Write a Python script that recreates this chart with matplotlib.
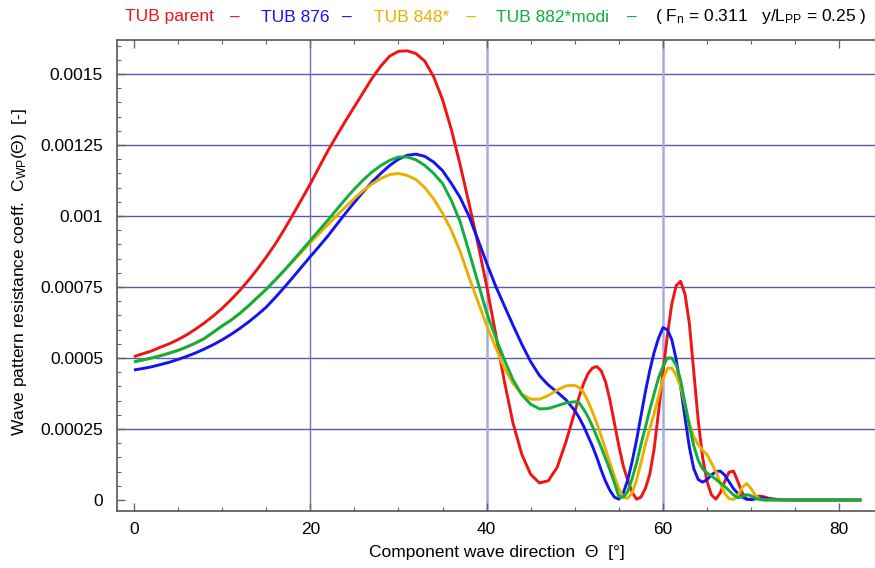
import numpy as np
import matplotlib
matplotlib.use("Agg")
import matplotlib.pyplot as plt
from matplotlib.ticker import FixedLocator, MultipleLocator

plt.rcParams['font.family'] = ['Liberation Sans', 'DejaVu Sans']
plt.rcParams['mathtext.fontset'] = 'custom'
plt.rcParams['mathtext.rm'] = 'Liberation Sans'
plt.rcParams['mathtext.it'] = 'Liberation Sans:italic'

# component wave direction [deg]
theta = [0, 1, 2, 3, 4, 5, 6, 7, 8, 9,
         10, 11, 12, 13, 14, 15, 16, 17, 18, 19,
         20, 21, 22, 23, 24, 25, 26, 27, 28, 29,
         30, 31, 32, 33, 34, 35, 36, 37, 38, 39,
         40, 41, 42, 43, 44, 45, 46, 47, 48, 49,
         50,
         50.5, 51, 51.5, 52, 52.5, 53, 53.5, 54, 54.5, 55,
         55.5, 56, 56.5, 57, 57.5, 58, 58.5, 59, 59.5, 60,
         60.5, 61, 61.5, 62, 62.5, 63, 63.5, 64, 64.5, 65,
         65.5, 66, 66.5, 67, 67.5, 68, 68.5, 69, 69.5, 70,
         70.5, 71, 71.5, 72,
         73, 74, 75, 78, 82.5]

# C_WP values in units of 1e-5
cwp_parent = [50.5, 51.5, 52.5, 53.8, 55, 56.5, 58.2, 60.2, 62.4, 64.8,
              67.5, 70.5, 73.8, 77.4, 81.3, 85.5, 90, 95, 100.3, 105.8,
              111.3, 117.2, 123, 128.3, 133.5, 138.5, 143.5, 148.5, 152.8, 156.3,
              158, 158.2, 157.2, 154.5, 149, 141, 130.5, 118, 104.5, 90.5,
              75.5, 59, 42, 27, 16, 9, 6, 6.8, 11.5, 20.5,
              31,
              36.5, 41, 44.5, 46.5, 47, 45.5, 41.5, 35, 27, 19,
              12, 7, 2.8, 0.3, 1, 4, 9, 18, 31, 45,
              58, 69, 75.5, 77, 72.5, 62, 45, 28, 15, 6.5,
              1.8, 0.3, 2.5, 6.5, 9.8, 10.2, 6.5, 2.5, 0.3, 0.3,
              1, 1.4, 1.1, 0.6,
              0.2, 0.05, 0, 0, 0]

cwp_876 = [45.8, 46.3, 46.9, 47.7, 48.5, 49.5, 50.6, 51.8, 53.2, 54.7,
           56.4, 58.3, 60.4, 62.7, 65.2, 67.9, 71.2, 74.7, 78.3, 82,
           85.7, 89.3, 93, 97, 101, 104.8, 108.5, 112, 115, 117.8,
           120, 121.4, 121.8, 121, 119, 116, 111.5, 106.5, 100, 91.8,
           83.5, 75.5, 68.5, 61.5, 54.8, 48.7, 43.8, 40.5, 38, 35.3,
           31.5,
           29, 26, 22.5, 19, 15, 10.5, 6.5, 3.3, 1, 0.3,
           2.5, 7, 13.5, 21, 29.5, 38, 45.5, 52, 57, 60.7,
           60, 56.5, 49.5, 40, 29, 18.5, 11, 7.2, 6.3, 7.2,
           8.8, 10, 10.2, 8.8, 6.4, 4, 2.3, 1, 0.3, 0.1,
           0.4, 0.7, 0.6, 0.4,
           0.1, 0, 0, 0, 0]

cwp_848 = [48.7, 49.3, 50, 50.8, 51.7, 52.7, 53.9, 55.3, 56.9, 59.1,
           61.3, 63.3, 65.7, 68.4, 71.3, 74.2, 77.4, 80.7, 84, 87.3,
           90.6, 93.8, 97, 100.2, 103.2, 106.2, 109, 111.3, 113.2, 114.6,
           115, 114.3, 112.8, 110, 106, 101, 95, 87.5, 78.5, 70,
           61.5, 54, 46.5, 41, 37.3, 35.5, 35.5, 36.8, 38.7, 40.2,
           40.4,
           39.6, 37.8, 34.8, 31, 27, 22.5, 17.7, 13, 8.3, 4,
           1, 0.6, 2.5, 7, 13, 19.5, 25, 30.5, 36.5, 42.5,
           46.3, 46.5, 44, 40, 33.5, 27, 22.3, 19.5, 17.5, 16,
           13, 10, 6, 2.3, 0.5, 0.2, 1.5, 4.5, 5.8, 4,
           1.5, 0.3, 0, 0,
           0, 0, 0, 0, 0]

cwp_882 = [48.7, 49.3, 50, 50.8, 51.7, 52.7, 53.9, 55.3, 56.9, 59.1,
           61.3, 63.3, 65.7, 68.4, 71.3, 74.2, 77.4, 80.7, 84.2, 87.8,
           91.4, 95, 98.6, 102.3, 106, 109.5, 112.7, 115.5, 117.8, 119.6,
           120.8, 120.8, 119.8, 117.8, 115, 111.5, 105.5, 98, 87.5, 76.8,
           66, 57.5, 49.5, 42.3, 37, 33.7, 32.1, 32.2, 33.2, 34.2,
           34.6,
           34.2, 32, 29.3, 26, 22.3, 18.5, 14.5, 10.5, 6, 1.2,
           1, 3, 7.5, 13, 19.5, 25.5, 31.7, 37.5, 43, 47,
           50, 50, 47.5, 42.3, 34, 26, 19, 14, 11, 9.5,
           8.5, 7.3, 6, 4.8, 3.3, 1.8, 0.8, 1.2, 1.9, 1.5,
           0.6, 0.2, 0, 0,
           0, 0, 0, 0, 0]

series_names = ['TUB parent', 'TUB 876', 'TUB 848*', 'TUB 882*modi']
series_vals = [cwp_parent, cwp_876, cwp_848, cwp_882]
series_colors = ['#f01414', '#1414f0', '#e8b000', '#10ae3a']

y_ticks = [0, 0.00025, 0.0005, 0.00075, 0.001, 0.00125, 0.0015]
y_tick_labels = ['0', '0.00025', '0.0005', '0.00075', '0.001', '0.00125', '0.0015']
x_ticks = [0, 20, 40, 60, 80]

fig = plt.figure(figsize=(8.75, 5.68), dpi=100)
ax = fig.add_axes([117 / 875, 1 - 511 / 568, 1 - 117 / 875, (511 - 40) / 568])

# grid lines
for yv in y_ticks[1:]:
    ax.axhline(yv, color='#5a5aaa', lw=1.0, zorder=1)
ax.axvline(20, color='#7373bd', lw=1.0, zorder=1)
for xv in (40, 60):
    ax.axvline(xv, color='#aaaadc', lw=1.8, zorder=1)

th = np.array(theta)
for name, vals, col in zip(series_names, series_vals, series_colors):
    ax.plot(th, np.array(vals) * 1e-5, color=col, lw=2.1, zorder=3,
            solid_joinstyle='round', solid_capstyle='butt')

ax.set_xlim(-1.92, 84.05)
ax.set_ylim(-0.0000387, 0.00162)

ax.xaxis.set_major_locator(FixedLocator(x_ticks))
ax.xaxis.set_minor_locator(MultipleLocator(5))
ax.yaxis.set_major_locator(FixedLocator(y_ticks))
ax.yaxis.set_minor_locator(MultipleLocator(0.00005))
ax.set_yticklabels(y_tick_labels)
ax.set_xticklabels([str(v) for v in x_ticks])

ax.tick_params(which='both', direction='in', top=True, right=False, colors='#666666',
               labelcolor='black', labelsize=12.5)
ax.tick_params(which='major', length=6, width=1)
ax.tick_params(which='minor', length=3, width=0.8)
ax.tick_params(axis='x', pad=8)
ax.tick_params(axis='y', pad=10)

for s in ('left', 'bottom', 'top'):
    ax.spines[s].set_color('#555555')
    ax.spines[s].set_linewidth(1.2)
ax.spines['right'].set_visible(False)

fig.text(20 / 875, 1 - 272 / 568, 'Wave pattern resistance coeff.  C$_\\mathrm{WP}$(Θ)  [-]',
         rotation=90, ha='center', va='center', fontsize=12.5)
fig.text(497 / 875, 1 - 553 / 568, 'Component wave direction  Θ  [°]',
         ha='center', va='center', fontsize=12.5)

# header legend
ty = 1 - 17 / 568
header = [(125, 'TUB parent', series_colors[0]), (230, '–', series_colors[0]),
          (261, 'TUB 876', series_colors[1]), (342, '–', series_colors[1]),
          (374, 'TUB 848*', series_colors[2]), (466, '–', series_colors[2]),
          (496, 'TUB 882*modi', series_colors[3]), (627, '–', series_colors[3]),
          (655, '( F$_\\mathrm{n}$ = 0.311   y/L$_\\mathrm{PP}$ = 0.25 )', 'black')]
for px, txt, col in header:
    fig.text(px / 875, ty, txt, color=col, ha='left', va='center', fontsize=12.5)

fig.savefig('out.png', dpi=100)
